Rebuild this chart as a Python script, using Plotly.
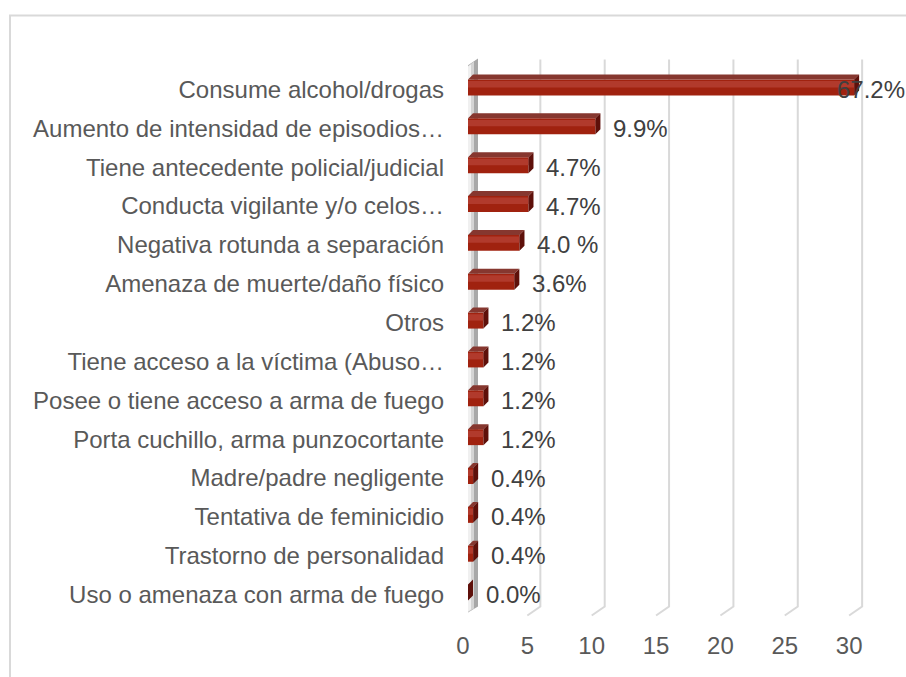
import plotly.graph_objects as go

categories = ["Consume alcohol/drogas", "Aumento de intensidad de episodios…",
              "Tiene antecedente policial/judicial", "Conducta vigilante y/o celos…",
              "Negativa rotunda a separación", "Amenaza de muerte/daño físico", "Otros",
              "Tiene acceso a la víctima (Abuso…", "Posee o tiene acceso a arma de fuego",
              "Porta cuchillo, arma punzocortante", "Madre/padre negligente",
              "Tentativa de feminicidio", "Trastorno de personalidad",
              "Uso o amenaza con arma de fuego"]
values = [67.2, 9.9, 4.7, 4.7, 4.0, 3.6, 1.2, 1.2, 1.2, 1.2, 0.4, 0.4, 0.4, 0.0]
value_labels = ["67.2%", "9.9%", "4.7%", "4.7%", "4.0 %", "3.6%", "1.2%", "1.2%",
                "1.2%", "1.2%", "0.4%", "0.4%", "0.4%", "0.0%"]
x_ticks = [0, 5, 10, 15, 20, 25, 30]

FONT = "Arial, Liberation Sans, sans-serif"
FS = 24
W, H = 906, 677
ML, MR, MT, MB = 468, 39, 69.5, 62.5
XMAX_AX = 31
AX_MAX = 30
n = len(categories)
plot_w = W - ML - MR
plot_h = H - MT - MB
px_x = plot_w / XMAX_AX          # pixels per data unit (x)
px_y = plot_h / n                # pixels per category (y)

idx = list(range(n))
clipped = [min(v, AX_MAX) for v in values]

# 3D geometry (in data units)
bar_h = 16 / px_y
bar_c_off = -2 / px_y
dx = 5 / px_x
dy = 5 / px_y

fig = go.Figure()

# front face
fig.add_trace(go.Bar(
    x=clipped, y=[i + bar_c_off for i in idx], orientation="h",
    width=bar_h, marker=dict(color="#a0220f", line=dict(width=0)),
    hoverinfo="skip", showlegend=False))
# highlight upper band of front face
fig.add_trace(go.Bar(
    x=clipped, y=[i + bar_c_off - bar_h * 0.2 for i in idx], orientation="h",
    width=bar_h * 0.4, marker=dict(color="#b13a2c", line=dict(width=0)),
    hoverinfo="skip", showlegend=False))

# top faces and side faces as polygons
top_x, top_y, side_x, side_y = [], [], [], []
for i, v in zip(idx, clipped):
    yt = i + bar_c_off - bar_h / 2
    yb = i + bar_c_off + bar_h / 2
    top_x += [0, dx, v + dx, v, 0, None]
    top_y += [yt, yt - dy, yt - dy, yt, yt, None]
    side_x += [v, v + dx, v + dx, v, v, None]
    side_y += [yt, yt - dy, yb - dy, yb, yt, None]

fig.add_trace(go.Scatter(x=top_x, y=top_y, mode="lines", fill="toself",
                         fillcolor="#86372f", line=dict(width=0, color="#86372f"),
                         hoverinfo="skip", showlegend=False))
fig.add_trace(go.Scatter(x=side_x, y=side_y, mode="lines", fill="toself",
                         fillcolor="#5e100a", line=dict(width=0, color="#5e100a"),
                         hoverinfo="skip", showlegend=False))

# data labels
for i, v, c, lab in zip(idx, values, clipped, value_labels):
    shift = 16 if v <= AX_MAX else -19
    fig.add_annotation(x=c, y=i, text=lab, showarrow=False, xanchor="left",
                       yanchor="middle", xshift=shift,
                       font=dict(family=FONT, size=FS, color="#404040"))

def fy(py):
    # pixel y (from top of figure) -> y domain fraction
    return (H - MB - py) / plot_h

shapes = []
# side wall
shapes.append(dict(type="path", xref="x", yref="y domain", xsizemode="pixel",
                   xanchor=0, layer="below",
                   path=f"M -5,{fy(68)} L 10,{fy(58)} L 10,{fy(607)} L -5,{fy(616)} Z",
                   fillcolor="#a8a8a8", line=dict(width=0)))
shapes.append(dict(type="path", xref="x", yref="y domain", xsizemode="pixel",
                   xanchor=0, layer="below",
                   path=f"M -2,{fy(67)} L 6,{fy(61)} L 6,{fy(609)} L -2,{fy(614)} Z",
                   fillcolor="#d4d4d4", line=dict(width=0)))
shapes.append(dict(type="path", xref="x", yref="y domain", xsizemode="pixel",
                   xanchor=0, layer="below",
                   path=f"M 0,{fy(66)} L 3,{fy(64)} L 3,{fy(610)} L 0,{fy(612)} Z",
                   fillcolor="#f0f0f0", line=dict(width=0)))
# gridlines with 3D floor
for t in x_ticks[1:]:
    shapes.append(dict(type="path", xref="x", yref="y domain", xsizemode="pixel",
                       xanchor=t, layer="below",
                       path=f"M 8,{fy(59)} L 8,{fy(607)} L -5,{fy(616)}",
                       line=dict(color="#d9d9d9", width=2)))
# chart border (top and left visible)
shapes.append(dict(type="path", xref="paper", yref="paper", xsizemode="pixel",
                   ysizemode="pixel", xanchor=0, yanchor=1, layer="above",
                   path=f"M {10 - ML},{-700} L {10 - ML},{MT - 15} L {W},{MT - 15}",
                   line=dict(color="#d9d9d9", width=2)))

fig.update_layout(
    width=W, height=H, margin=dict(l=ML, r=MR, t=MT, b=MB, autoexpand=False),
    paper_bgcolor="white", plot_bgcolor="white", barmode="overlay",
    shapes=shapes, showlegend=False,
    xaxis=dict(range=[0, XMAX_AX], tickvals=x_ticks, ticktext=[str(t) for t in x_ticks],
               showgrid=False, zeroline=False, showline=False, ticks="",
               tickfont=dict(family=FONT, size=FS, color="#595959"),
               ticklabelshift=-5, ticklabelstandoff=15),
    yaxis=dict(range=[n - 0.5, -0.5], tickvals=idx, ticktext=categories,
               showgrid=False, zeroline=False, showline=False, ticks="",
               tickfont=dict(family=FONT, size=FS, color="#595959"),
               ticklabelstandoff=23),
)

fig.write_html("out.html", config={"displayModeBar": False},
               post_script="document.body.style.margin='0';document.body.style.overflow='hidden';")
